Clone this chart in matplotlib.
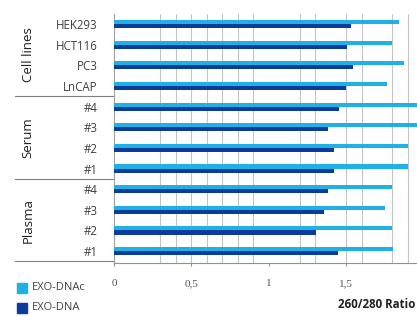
import matplotlib
matplotlib.use("Agg")
import matplotlib.pyplot as plt
from matplotlib.patches import Rectangle

# rows from top to bottom
labels = ["HEK293", "HCT116", "PC3", "LnCAP",
          "#4", "#3", "#2", "#1",
          "#4", "#3", "#2", "#1"]
groups = ["Cell lines", "Serum", "Plasma"]
group_size = 4

exo_dnac = [1.84, 1.80, 1.875, 1.765, 2.0, 2.0, 1.90, 1.90, 1.80, 1.755, 1.80, 1.805]
exo_dna = [1.53, 1.505, 1.545, 1.50, 1.455, 1.385, 1.42, 1.425, 1.385, 1.355, 1.305, 1.445]

xticks = [0, 0.5, 1, 1.5]
xticklabels = ["0", "0,5", "1", "1,5"]

light = "#1fb0e6"
dark = "#0b3c9c"
txt = "#404040"
W, H = 417, 316

plt.rcParams["font.family"] = ["Open Sans", "DejaVu Sans"]

fig = plt.figure(figsize=(W / 100, H / 100), dpi=100)
ax = fig.add_axes([114 / W, 1 - 263 / H, 303 / W, 249 / H])

ypos = list(range(len(labels)))
bh = 0.2
ax.barh([y - bh / 2 for y in ypos], exo_dnac, height=bh, color=light, zorder=3)
ax.barh([y + bh / 2 for y in ypos], exo_dna, height=bh, color=dark, zorder=3)

ax.set_xlim(0, 303 / 154.7)
ax.set_ylim(11.58, -0.49)

# vertical gridlines (as seen in the picture)
for gx in [0.3, 0.4, 0.5, 0.6, 0.7, 0.8, 0.9, 1.2, 1.3, 1.5, 1.6, 1.8, 1.9]:
    ax.axvline(gx, color="#c4c4c4", lw=0.8, zorder=1)

for s in ["top", "right"]:
    ax.spines[s].set_visible(False)
ax.spines["left"].set_color("#a0a0a0")
ax.spines["bottom"].set_color("#909090")

ax.set_yticks(ypos, labels)
ax.tick_params(axis="y", length=0, pad=12, labelsize=8.3, labelcolor=txt)
ax.set_xticks(xticks, xticklabels)
ax.tick_params(axis="x", length=2.5, color="#909090", pad=9, labelsize=8,
               labelcolor="#555555")
for t in ax.get_xticklabels():
    t.set_family("Liberation Serif")

# group separators and group labels
tr = ax.get_yaxis_transform()
x0 = -(114 - 15) / 303
for i in range(1, len(groups) + 1):
    yy = i * group_size - 0.5
    ax.plot([x0, 0], [yy, yy], color="#808080", lw=0.8, transform=tr, clip_on=False)
for i, g in enumerate(groups):
    yc = i * group_size + (group_size - 1) / 2
    ax.text(-(114 - 28) / 303, yc, g, rotation=90, ha="center", va="center",
            transform=tr, fontsize=9.5, color="#202020")

# axis title
fig.text(415 / W, 1 - 305 / H, "260/280 Ratio", fontsize=8.3, fontweight="bold",
         color="#202020", ha="right", va="center")

# legend
for (yy, c, name) in [(288, light, "EXO-DNAc"), (308, dark, "EXO-DNA")]:
    fig.patches.append(Rectangle((17 / W, 1 - (yy + 5) / H), 10 / W, 10 / H,
                                 color=c, transform=fig.transFigure))
    fig.text(32 / W, 1 - yy / H, name, fontsize=8, color=txt, ha="left", va="center")

fig.savefig("out.png", dpi=100)
